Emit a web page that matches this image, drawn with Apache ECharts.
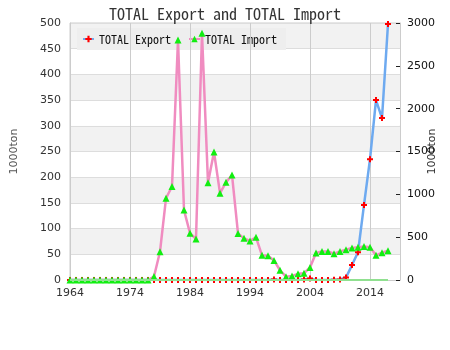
<!DOCTYPE html>
<html>
<head>
<meta charset="utf-8">
<script src="https://cdn.jsdelivr.net/npm/echarts@6/dist/echarts.min.js"></script>
<style>html,body{margin:0;padding:0;background:#fff}#c{width:450px;height:350px}</style>
</head>
<body>
<div id="c"></div>
<script>
var years = [1964,1965,1966,1967,1968,1969,1970,1971,1972,1973,1974,1975,1976,1977,1978,1979,1980,1981,1982,1983,1984,1985,1986,1987,1988,1989,1990,1991,1992,1993,1994,1995,1996,1997,1998,1999,2000,2001,2002,2003,2004,2005,2006,2007,2008,2009,2010,2011,2012,2013,2014,2015,2016,2017];
var exportVals = [0,0,0,0,0,0,0,0,0,0,0,0,0,0,0,0,0,0,0,0,0,0,0,0,0,0,0,0,0,0,0,0,0,0,1,0,0,0,0,1,3,0,0,0,0.5,1,5,29,54,146,235,350,315,498];
var importVals = [0,0,0,0,0,0,0,0,0,0,0,0,0,0,40,330,954,1092,2802,816,546,480,2880,1134,1494,1014,1140,1226,544,486,456,498,288,282,228,114,39,48,72,78,147,315,333,333,306,333,354,375,381,390,381,288,318,342];
var baseVals = [0,0,0,0,0,0,0,0,0,0,0,0,0,0,0,0,0,0,0,0,0,0,0,0,0,0,0,0,0,0,0,0,0,0,0,0,0,0,0,0,0,0,0,0,0,0,0,0,0,0,0,0,0,0];
var xTicks = [1964,1974,1984,1994,2004,2014];
var leftTicks = [0,50,100,150,200,250,300,350,400,450,500];
var rightTicks = [0,500,1000,1500,2000,2500,3000];
var titleText = 'TOTAL Export and TOTAL Import';
var seriesNames = ['TOTAL Export','TOTAL Import'];
var unitName = '1000ton';

function pairs(v){ return years.map(function(y,i){ return [y, v[i]]; }); }
var plus = 'path://M3,0H6V3H9V6H6V9H3V6H0V3H3Z';
var mono = '"Noto Sans Mono CJK SC","Noto Sans Mono CJK JP","DejaVu Sans Mono",monospace';

var chart = echarts.init(document.getElementById('c'), null, {renderer:'canvas'});
chart.setOption({
  animation:false,
  backgroundColor:'#fff',
  title:{text:titleText,left:'center',top:1,textStyle:{fontFamily:mono,fontSize:16,fontWeight:'normal',color:'#333'}},
  legend:{
    data:seriesNames,left:77,top:28,padding:[5,9,5,5],backgroundColor:'#eeeeee',z:1,
    itemGap:17,itemWidth:11,itemHeight:8,
    textStyle:{fontFamily:mono,fontSize:12,color:'#111'}
  },
  grid:{left:70,right:50,top:23,bottom:70,show:true,borderColor:'#ccc',borderWidth:1,backgroundColor:'transparent',containLabel:false,outerBoundsMode:'none'},
  xAxis:{
    type:'value',min:xTicks[0],max:2019,interval:10,z:2,
    axisLine:{show:true,lineStyle:{color:'#ccc'}},
    axisTick:{show:false},
    axisLabel:{color:'#333',fontFamily:'DejaVu Sans',fontSize:11,margin:8,showMaxLabel:false,formatter:function(v){return String(v);}},
    splitLine:{show:true,lineStyle:{color:'#ccc'}}
  },
  yAxis:[{
    type:'value',min:leftTicks[0],max:leftTicks[leftTicks.length-1],interval:50,position:'left',z:0,
    name:unitName,nameLocation:'middle',nameGap:50,nameRotate:90,
    nameTextStyle:{color:'#555',fontFamily:'DejaVu Sans',fontSize:11},
    axisLine:{show:true,lineStyle:{color:'#ccc'}},axisTick:{show:false},
    axisLabel:{color:'#333',fontFamily:'DejaVu Sans',fontSize:11,margin:9,formatter:function(v){return String(v);}},
    splitLine:{show:true,lineStyle:{color:'#ddd'}},
    splitArea:{show:true,areaStyle:{color:['#ffffff','#f2f2f2']}}
  },{
    type:'value',min:rightTicks[0],max:rightTicks[rightTicks.length-1],interval:500,position:'right',z:2,
    name:unitName,nameLocation:'middle',nameGap:27,nameRotate:90,nameMoveOverlap:false,
    nameTextStyle:{color:'#333',fontFamily:'DejaVu Sans',fontSize:11},
    axisLine:{show:true,lineStyle:{color:'#ccc'}},
    axisTick:{show:true,inside:true,length:4,lineStyle:{color:'#222'}},
    axisLabel:{color:'#111',fontFamily:'DejaVu Sans',fontSize:11,margin:7,formatter:function(v){return String(v);}},
    splitLine:{show:false}
  }],
  series:[{
    name:seriesNames[0],type:'line',yAxisIndex:0,data:pairs(exportVals),
    symbol:plus,symbolSize:6,showAllSymbol:true,
    lineStyle:{color:'#6eaaf0',width:2.5},itemStyle:{color:'#ff0000'},z:3
  },{
    name:seriesNames[1],type:'line',yAxisIndex:1,data:pairs(importVals),
    symbol:'triangle',symbolSize:7,showAllSymbol:true,
    lineStyle:{color:'#f08cc0',width:2.5},itemStyle:{color:'#11ee11'},z:4
  },{
    name:'base',type:'line',yAxisIndex:0,data:pairs(baseVals),silent:true,
    symbol:'none',lineStyle:{color:'#90e090',width:2},z:5
  }]
});
</script>
</body>
</html>
